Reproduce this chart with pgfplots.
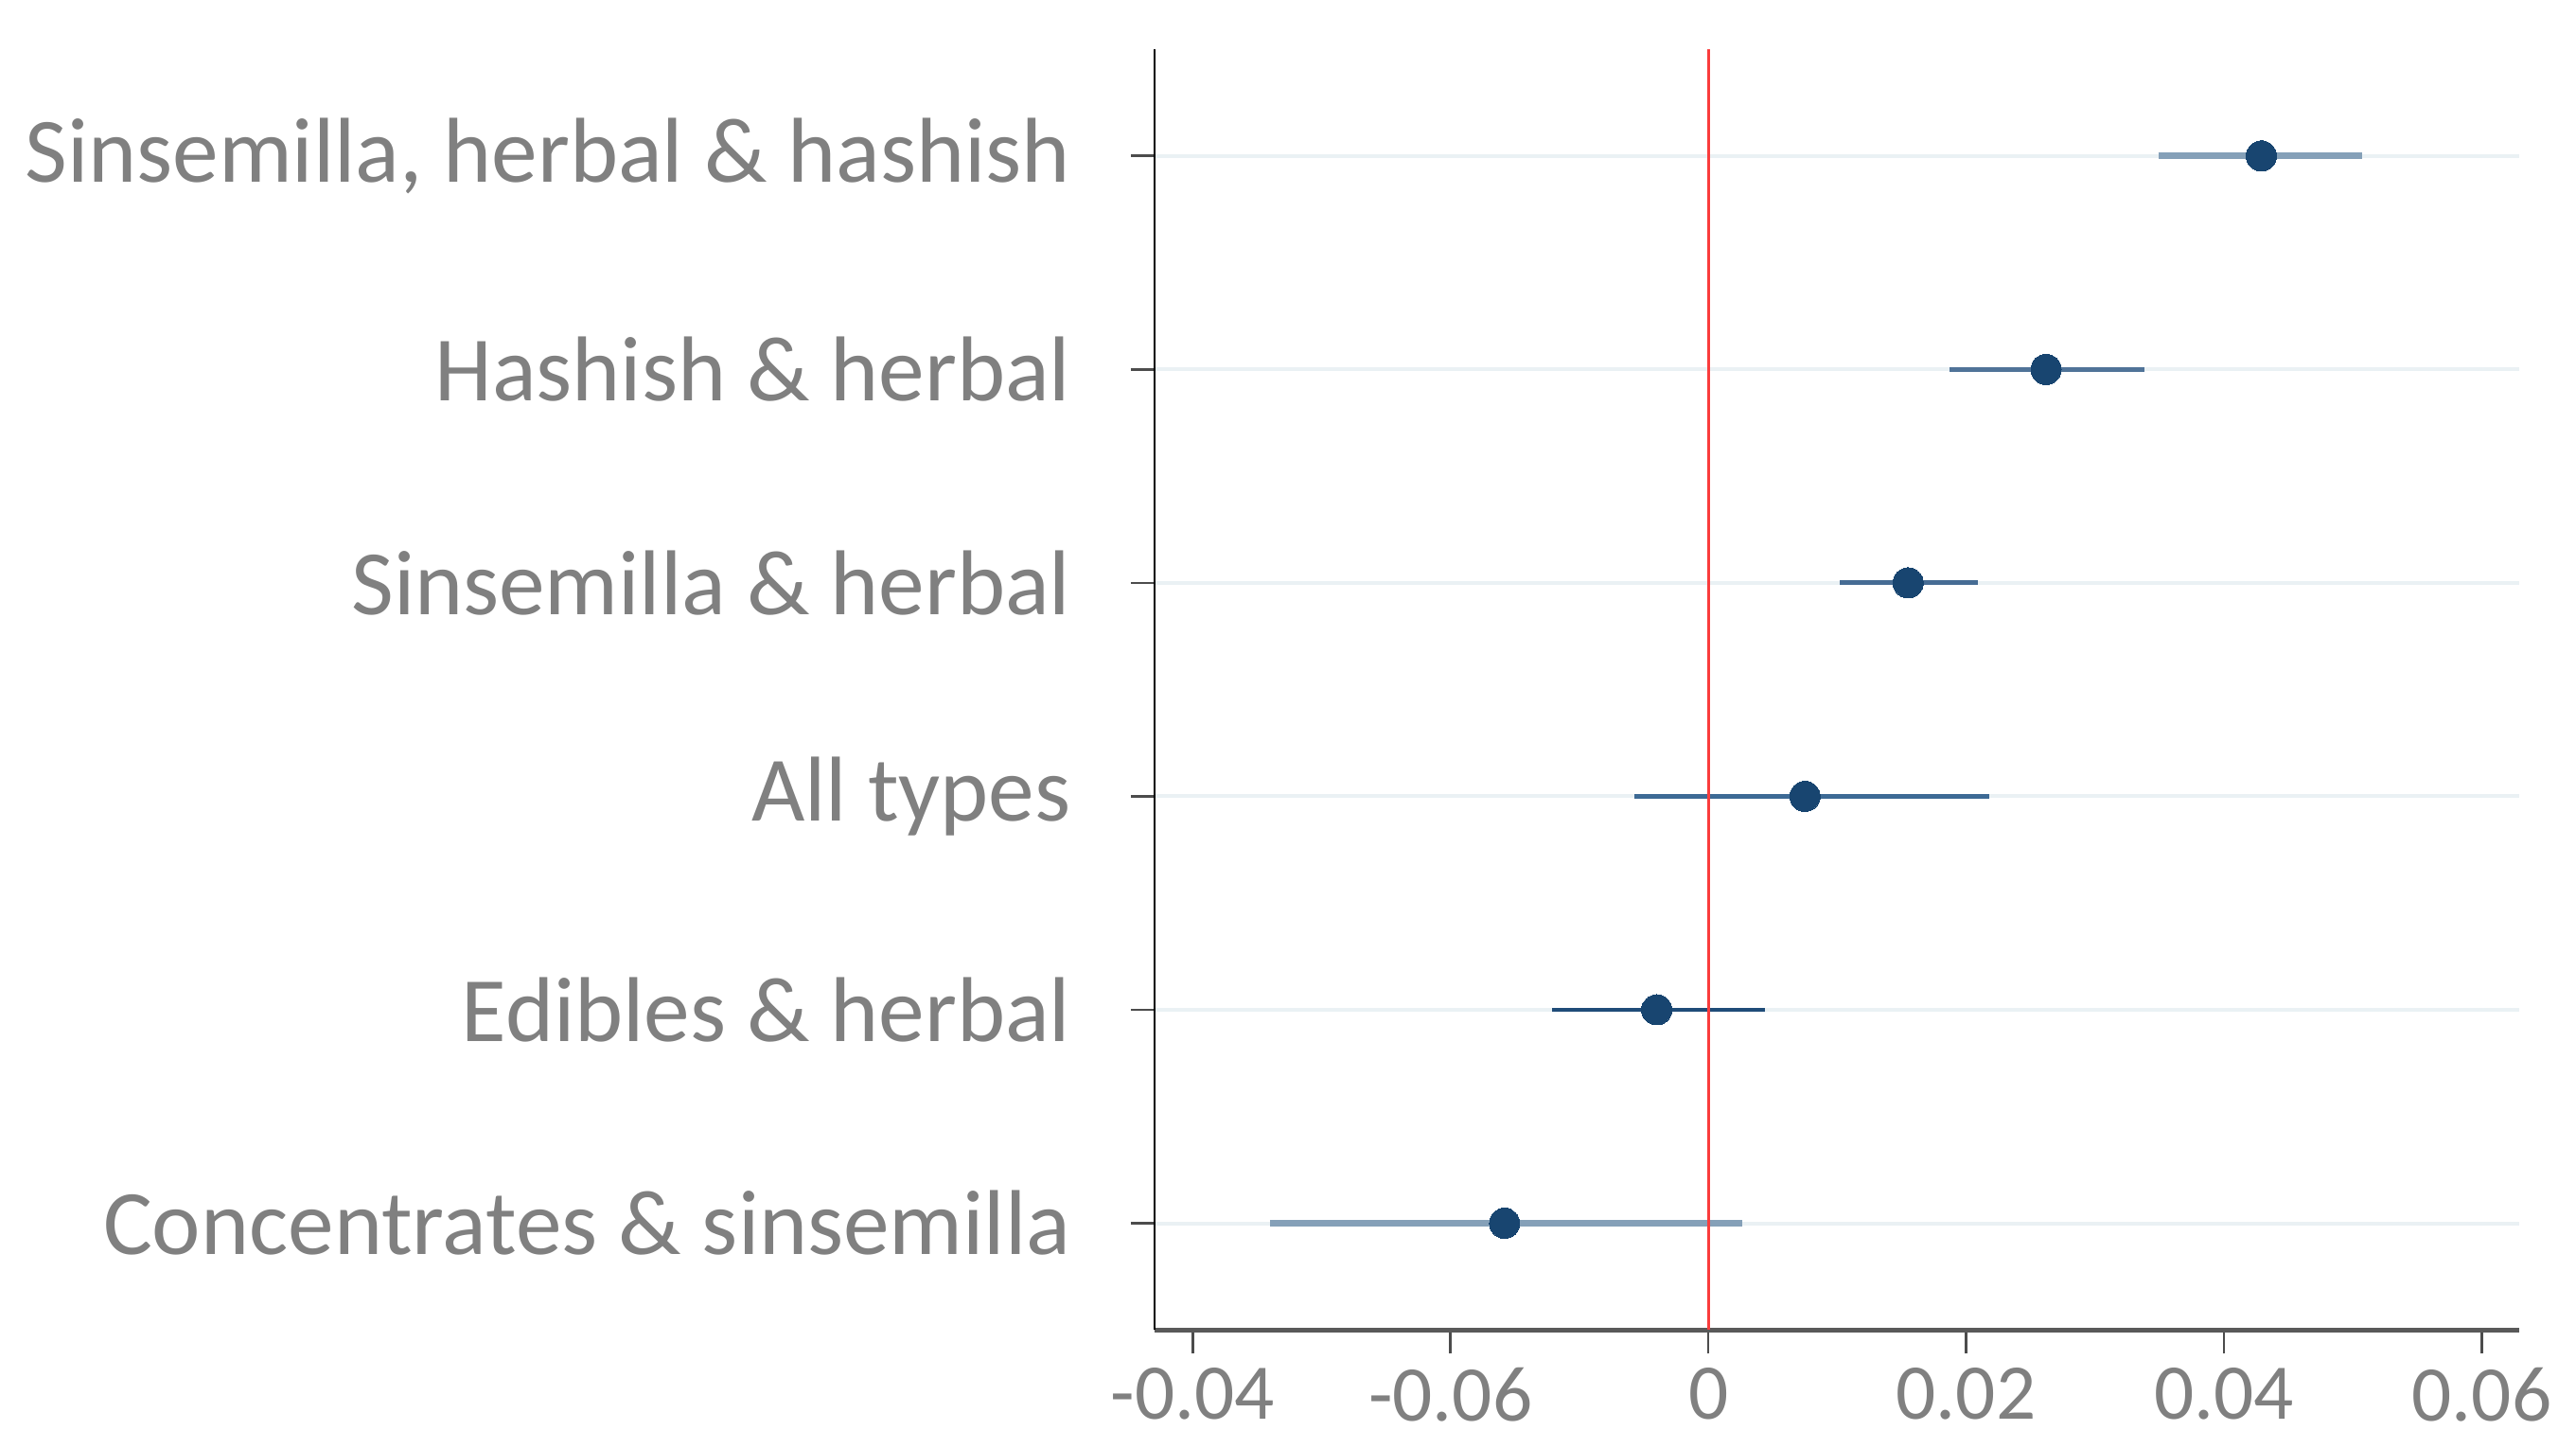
\documentclass[border=0pt]{standalone}
\usepackage{fontspec}
\setmainfont{Carlito}
\usepackage{pgfplots}
\pgfplotsset{compat=1.18}
\definecolor{lbl}{RGB}{128,128,128}
\definecolor{dot}{RGB}{24,69,112}
\definecolor{gridc}{RGB}{234,241,244}
\definecolor{cA}{RGB}{133,160,184}
\definecolor{cB}{RGB}{80,115,152}
\definecolor{cC}{RGB}{70,108,148}
\definecolor{cD}{RGB}{61,106,149}
\definecolor{cE}{RGB}{31,76,120}
\definecolor{redl}{RGB}{250,60,60}
\begin{document}
\begin{tikzpicture}
\begin{axis}[
  scale only axis, width=216.3pt, height=203pt,
  xmin=-0.04295, xmax=0.0629, ymin=0.5, ymax=6.5,
  axis x line*=bottom, axis y line*=left,
  x axis line style={draw=black!65, line width=0.7pt, -},
  y axis line style={draw=black, line width=0.4pt, -},
  xtick={-0.04,-0.02,0,0.02,0.04,0.06},
  xticklabels={-0.04,-0.06,0,0.02,0.04,0.06},
  ytick={1,2,3,4,5,6},
  yticklabels={Concentrates \& sinsemilla, Edibles \& herbal, All types, Sinsemilla \& herbal, Hashish \& herbal, {Sinsemilla, herbal \& hashish}},
  tick align=outside, major tick length=3.75pt,
  tick style={draw=black!70, line width=0.4pt},
  ymajorgrids, grid style={draw=gridc, line width=0.6pt},
  ticklabel style={text=lbl},
  yticklabel style={font=\fontsize{14.6}{16}\selectfont, xshift=-6pt},
  xticklabel style={font=\fontsize{12.5}{14}\selectfont, yshift=-1.0pt, inner sep=1pt},
  clip=false,
]
\coordinate (sw) at (rel axis cs:0,0);
\coordinate (ne) at (rel axis cs:1,1);
\addplot[draw=cA, line width=1.05pt] coordinates {(0.0349,6) (0.0507,6)};
\addplot[draw=cB, line width=0.8pt] coordinates {(0.0187,5) (0.0338,5)};
\addplot[draw=cC, line width=0.75pt] coordinates {(0.0102,4) (0.0209,4)};
\addplot[draw=cD, line width=0.7pt] coordinates {(-0.0057,3) (0.0218,3)};
\addplot[draw=cE, line width=0.6pt] coordinates {(-0.0121,2) (0.0044,2)};
\addplot[draw=cA, line width=1.05pt] coordinates {(-0.0340,1) (0.0026,1)};
\addplot[draw=redl, line width=0.45pt] coordinates {(0,0.5) (0,6.5)};
\addplot[only marks, mark=*, mark size=2.4pt, mark options={fill=dot, draw=dot, line width=0pt}] coordinates {
(0.0429,6) (0.0262,5) (0.0155,4) (0.0075,3) (-0.0040,2) (-0.0158,1)};
\end{axis}
\pgfresetboundingbox
\path ([xshift=-183pt,yshift=-18.6pt]sw) rectangle ([xshift=9pt,yshift=7.8pt]ne);
\end{tikzpicture}
\end{document}
